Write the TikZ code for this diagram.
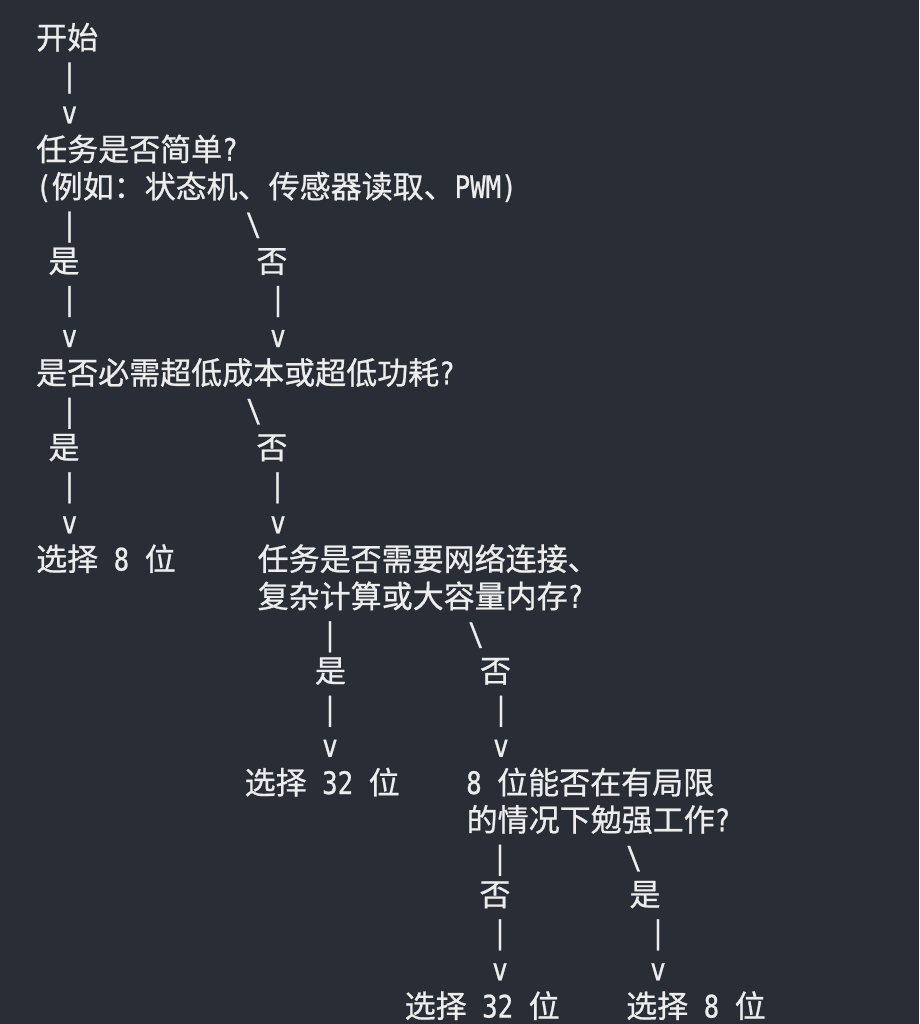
\documentclass[tikz,border=0pt]{standalone}
\usepackage{fontspec}
\usetikzlibrary{positioning}
\newfontfamily\cjk[FakeBold=0.8]{Noto Sans CJK SC}
\newfontfamily\asc[FakeStretch=0.83,FakeBold=0.8]{DejaVu Sans Mono}
\newcommand\hw[1]{{\asc#1}}
\definecolor{bgc}{HTML}{292D35}
\definecolor{txt}{HTML}{EDEDED}

\begin{document}
\begin{tikzpicture}[x=1pt,y=-37.25pt]
\tikzstyle{line node}=[anchor=base west,inner sep=0,text=txt,font=\cjk\fontsize{31}{37}\selectfont]
\tikzstyle{ans node}=[anchor=base,inner sep=0,text=txt,font=\cjk\fontsize{31}{37}\selectfont]
\tikzstyle{bar node}=[anchor=base,inner sep=0,text=txt,font=\asc\fontsize{31}{37}\selectfont]

\fill[bgc] (0pt,0pt) rectangle (919pt,-1024pt);
\useasboundingbox (0pt,0pt) rectangle (919pt,-1024pt);

\begin{scope}[yshift=-49pt]
    \node[line node] (start) at (36,0) {开始};
    \node[bar node] (s1) at (69.5,1) {|};
    \node[bar node] (s2) at (69.5,2) {v};

    \node[line node] (q1) at (36,3) {任务是否简单\hw{?}};
    \node[line node] (q1b) at (36,4) {\hw{(}例如：状态机、传感器读取、\hw{PWM)}};
    \node[bar node] (q1y1) at (69.5,5) {|};
    \node[bar node] (q1n1) at (253.5,5) {\textbackslash};
    \node[ans node] (q1y) at (64,6) {是};
    \node[ans node] (q1n) at (272,6) {否};
    \node[bar node] (q1y2) at (69.5,7) {|};
    \node[bar node] (q1n2) at (278,7) {|};
    \node[bar node] (q1y3) at (69.5,8) {v};
    \node[bar node] (q1n3) at (278,8) {v};

    %%%%%%%%%%%%%%%%%%%%%%%%%%
    \node[line node] (q2) at (36,9) {是否必需超低成本或超低功耗\hw{?}};
    \node[bar node] (q2y1) at (69.5,10) {|};
    \node[bar node] (q2n1) at (254,10) {\textbackslash};
    \node[ans node] (q2y) at (64,11) {是};
    \node[ans node] (q2n) at (272,11) {否};
    \node[bar node] (q2y2) at (69.5,12) {|};
    \node[bar node] (q2n2) at (277.5,12) {|};
    \node[bar node] (q2y3) at (69.5,13) {v};
    \node[bar node] (q2n3) at (278,13) {v};
    \node[line node] (pick8a) at (36,14) {选择\hw{\ 8\ }位};

    %%%%%%%%%%%%%%%%%%%%%%%%%%
    \node[line node] (q3) at (257.5,14) {任务是否需要网络连接、};
    \node[line node] (q3b) at (257.5,15) {复杂计算或大容量内存\hw{?}};
    \node[bar node] (q3y1) at (330,16) {|};
    \node[bar node] (q3n1) at (476,16) {\textbackslash};
    \node[ans node] (q3y) at (330.5,17) {是};
    \node[ans node] (q3n) at (495.5,17) {否};
    \node[bar node] (q3y2) at (330,18) {|};
    \node[bar node] (q3n2) at (501,18) {|};
    \node[bar node] (q3y3) at (330,19) {v};
    \node[bar node] (q3n3) at (501,19) {v};
    \node[line node] (pick32a) at (244.5,20) {选择\hw{\ 32\ }位};

    %%%%%%%%%%%%%%%%%%%%%%%%%%
    \node[line node] (q4) at (466,20) {\hw{8\ }位能否在有局限};
    \node[line node] (q4b) at (466.5,21) {的情况下勉强工作\hw{?}};
    \node[bar node] (q4n1) at (500,22) {|};
    \node[bar node] (q4y1) at (634,22) {\textbackslash};
    \node[ans node] (q4n) at (495,23) {否};
    \node[ans node] (q4y) at (645,23) {是};
    \node[bar node] (q4n2) at (500,24) {|};
    \node[bar node] (q4y2) at (658,24) {|};
    \node[bar node] (q4n3) at (500,25) {v};
    \node[bar node] (q4y3) at (658,25) {v};
    \node[line node] (pick32b) at (404.5,26) {选择\hw{\ 32\ }位};
    \node[line node] (pick8b) at (626,26) {选择\hw{\ 8\ }位};
\end{scope}
\end{tikzpicture}
\end{document}
